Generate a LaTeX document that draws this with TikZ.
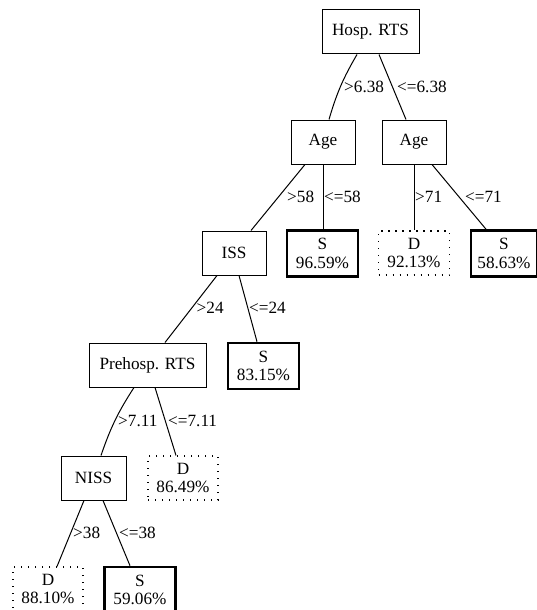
\documentclass[tikz,border=0pt]{standalone}
\usepackage{fontspec}
\setmainfont{Liberation Serif}
\begin{document}
\begin{tikzpicture}[x=1pt,y=-1pt,
  every node/.style={font=\fontsize{17.2}{18.5}\selectfont},
  split/.style={draw,line width=1pt,minimum height=44pt,inner sep=0pt},
  leafS/.style={draw,line width=2.6pt,minimum height=46pt,minimum width=71pt,inner sep=0pt,align=center},
  leafD/.style={draw,line width=1.1pt,dash pattern=on 1.1pt off 5.9pt,minimum height=44pt,minimum width=71pt,inner sep=0pt,align=center},
  edge/.style={line width=1pt},
  lab/.style={anchor=west,inner sep=0pt}]
\useasboundingbox (0,0) rectangle (537,610);
\clip (0,0) rectangle (537,610);
% nodes
\node[split,minimum width=97pt] (hosp) at (370.5,32) {Hosp. RTS};
\node[split,minimum width=64pt] (ageL) at (323,142) {Age};
\node[split,minimum width=64pt] (ageR) at (414,142) {Age};
\node[split,minimum width=64pt] (iss) at (234,253) {ISS};
\node[leafS] (s9659) at (322.5,253.5) {S\\96.59\%};
\node[leafD] (d9213) at (414,253) {D\\92.13\%};
\node[leafS,minimum width=66pt] (s5863) at (504,253.5) {S\\58.63\%};
\node[split,minimum width=117pt] (preh) at (147.5,365) {Prehosp. RTS};
\node[leafS] (s8315) at (263.5,366) {S\\83.15\%};
\node[split,minimum width=65pt] (niss) at (93.5,478) {NISS};
\node[leafD,minimum width=70pt] (d8649) at (183,478) {D\\86.49\%};
\node[leafD,minimum width=70pt] (d8810) at (48,589) {D\\88.10\%};
\node[leafS] (s5906) at (140,590) {S\\59.06\%};
% edges
\draw[edge] ([xshift=-13.5pt]hosp.south) to[bend right=7] ([xshift=6pt]ageL.north);
\draw[edge] ([xshift=8.5pt]hosp.south) -- ([xshift=-8pt]ageR.north);
\draw[edge] ([xshift=-18pt]ageL.south) -- ([xshift=17pt]iss.north);
\draw[edge] (ageL.south) -- (ageL.south |- s9659.north);
\draw[edge] (ageR.south) -- (d9213.north);
\draw[edge] ([xshift=18pt]ageR.south) -- ([xshift=-18pt]s5863.north);
\draw[edge] ([xshift=-17pt]iss.south) -- ([xshift=17.5pt]preh.north);
\draw[edge] ([xshift=5pt]iss.south) -- ([xshift=-6.5pt]s8315.north);
\draw[edge] ([xshift=-13.5pt]preh.south) to[bend right=7] ([xshift=7.5pt]niss.north);
\draw[edge] ([xshift=7.5pt]preh.south) -- ([xshift=-7pt]d8649.north);
\draw[edge] ([xshift=-9.5pt]niss.south) -- ([xshift=9pt]d8810.north);
\draw[edge] ([xshift=9.5pt]niss.south) -- ([xshift=-10pt]s5906.north);
% labels
\node[lab] (l1) at (344,87) {>6.38};
\node[lab] (l2) at (397,87) {<=6.38};
\node[lab] (l3) at (287,197) {>58};
\node[lab] (l4) at (324,197) {<=58};
\node[lab] (l5) at (415,197) {>71};
\node[lab] (l6) at (465,197) {<=71};
\node[lab] (l7) at (196.5,308) {>24};
\node[lab] (l8) at (249,308) {<=24};
\node[lab] (l9) at (118,421) {>7.11};
\node[lab] (l10) at (168,421) {<=7.11};
\node[lab] (l11) at (73,533) {>38};
\node[lab] (l12) at (119,533) {<=38};
\end{tikzpicture}
\end{document}
